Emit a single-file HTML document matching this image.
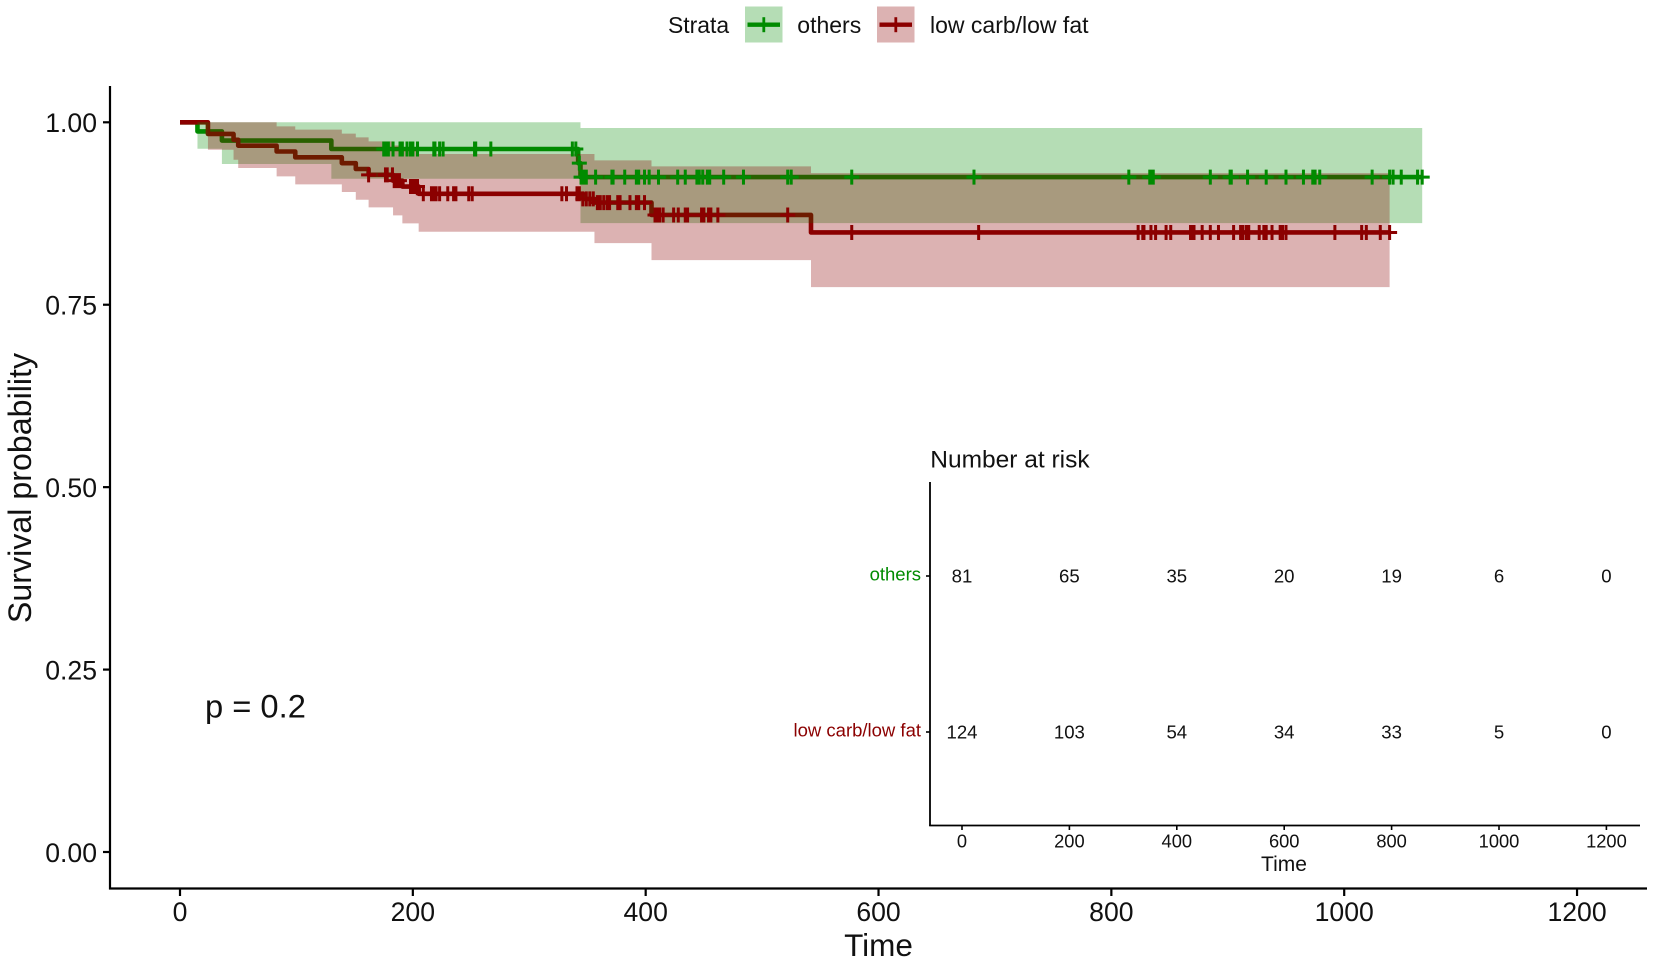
<!DOCTYPE html>
<html lang="en">
<head>
<meta charset="utf-8">
<title>Survival curve</title>
<style>
html,body{margin:0;padding:0;background:#fff;}
svg{display:block;}
text{font-family:"Liberation Sans",Arial,sans-serif;fill:#111;}
</style>
</head>
<body>
<svg id="chart" xmlns="http://www.w3.org/2000/svg" width="1654" height="964" viewBox="0 0 1654 964"></svg>
<script>
// ---- data ----
const xTicks = [0, 200, 400, 600, 800, 1000, 1200];
const yTicks = [0, 0.25, 0.5, 0.75, 1];
const yTickLabels = ["0.00", "0.25", "0.50", "0.75", "1.00"];
const riskTimes = [0, 200, 400, 600, 800, 1000, 1200];
const riskOthers = [81, 65, 35, 20, 19, 6, 0];
const riskLowCarb = [124, 103, 54, 34, 33, 5, 0];

const othersTime = [0, 15, 36, 130, 342, 344];
const othersSurv = [1, 0.9875, 0.975, 0.9634, 0.944, 0.9249];
const othersUpper = [1, 1, 1, 1, 1, 0.9922];
const othersLower = [1, 0.9638, 0.9428, 0.9227, 0.9227, 0.8619];
const othersEnd = 1067;
const othersCensor = [175,177,179,183,189,191,195,198,200,204,218,219,223,226,253,254,267,337,340,343,344.5,346.5,349,357,371,372,382,392,394,399,403,411,427.5,434,444,446,449,453,455,467,484,522,525,577,682,815,833,834,836,885,902,903,917,933,950,965,973,975,979,1024,1039,1042,1049,1063,1067];

const lowTime = [0, 24, 46, 50, 83, 99, 139, 151, 162, 183, 191, 205, 346, 356, 405, 542];
const lowSurv = [1, 0.984, 0.976, 0.968, 0.96, 0.952, 0.944, 0.936, 0.928, 0.92, 0.912, 0.902, 0.895, 0.89, 0.873, 0.849];
const lowUpper = [1, 1, 1, 1, 0.9944, 0.9899, 0.9844, 0.9794, 0.9739, 0.9684, 0.9624, 0.9565, 0.9565, 0.9478, 0.9396, 0.9304];
const lowLower = [1, 0.9624, 0.9487, 0.9373, 0.9259, 0.9149, 0.9044, 0.8939, 0.8834, 0.8724, 0.8614, 0.85, 0.85, 0.8345, 0.8112, 0.7742];
const lowEnd = 1039;
const lowCensor = [162,176.5,178,182.5,184,186,188.5,198,200,202,204,209,216,218,220,223,230,235,237,248,251,328,332,341,343,346,349,352,355,358.5,361,364,367,369,376,378,386.5,392,394,399,408,410,412,415,424,428,434,436,448,450,454,456,462,522,577,686,823,827,828,834,838,847,851,868,870,871,878,885,892,905,911,913,916,918,927,931,933,938,945,947,950,992,1015,1019,1031,1039];

// ---- axis functions ----
const xScale = t => 180 + t * 1.1642;
const yScale = s => 852 - s * 729.7;
const riskX = t => 962 + t * 0.537;

const GREEN = "#008b00";
const RED = "#8b0000";
const svg = document.getElementById("chart");
const NS = "http://www.w3.org/2000/svg";

function make(tag, attrs, parent) {
  const el = document.createElementNS(NS, tag);
  for (const k in attrs) el.setAttribute(k, attrs[k]);
  (parent || svg).appendChild(el);
  return el;
}
function label(str, x, y, size, anchor, fill, parent) {
  const el = make("text", {x: x, y: y, "font-size": size, "text-anchor": anchor || "start"}, parent);
  if (fill) el.style.fill = fill;
  el.textContent = str;
  return el;
}
function stepValue(times, vals, t) {
  let v = vals[0];
  for (let i = 0; i < times.length; i++) if (times[i] <= t) v = vals[i];
  return v;
}
function stepPath(times, vals, end) {
  let d = "M" + xScale(times[0]) + " " + yScale(vals[0]);
  for (let i = 1; i < times.length; i++) {
    d += "H" + xScale(times[i]) + "V" + yScale(vals[i]);
  }
  return d + "H" + xScale(end);
}
function ribbonPath(times, up, lo, end) {
  let d = "M" + xScale(times[0]) + " " + yScale(up[0]);
  for (let i = 1; i < times.length; i++) {
    d += "H" + xScale(times[i]) + "V" + yScale(up[i]);
  }
  d += "H" + xScale(end) + "V" + yScale(lo[lo.length - 1]);
  for (let i = times.length - 1; i >= 1; i--) {
    d += "H" + xScale(times[i]) + "V" + yScale(lo[i - 1]);
  }
  return d + "H" + xScale(times[0]) + "Z";
}

// ---- curves, beneath the ribbons ----
const othersLine = make("path", {d: stepPath(othersTime, othersSurv, othersEnd), fill: "none", stroke: GREEN, "stroke-width": 4.6, "stroke-linejoin": "round"});


const lowLine = make("path", {d: stepPath(lowTime, lowSurv, lowEnd), fill: "none", stroke: RED, "stroke-width": 4.6, "stroke-linejoin": "round"});



// ---- confidence ribbons ----
const othersBand = make("path", {d: ribbonPath(othersTime, othersUpper, othersLower, othersEnd), fill: GREEN, "fill-opacity": 0.29});


const lowBand = make("path", {d: ribbonPath(lowTime, lowUpper, lowLower, lowEnd), fill: RED, "fill-opacity": 0.3});



// ---- censor marks ----
function censorPath(list, times, vals) {
  let d = "";
  list.forEach(t => {
    const cx = xScale(t);
    const cy = yScale(stepValue(times, vals, t));
    d += "M" + (cx - 7.5) + " " + cy + "h15M" + cx + " " + (cy - 7.5) + "v15";
  });
  return d;
}
const othersMarks = make("path", {d: censorPath(othersCensor, othersTime, othersSurv), fill: "none", stroke: GREEN, "stroke-width": 3});


const lowMarks = make("path", {d: censorPath(lowCensor, lowTime, lowSurv), fill: "none", stroke: RED, "stroke-width": 3});



// ---- main axes ----
const xAxis = make("line", {x1: 109, x2: 1647, y1: 888.5, y2: 888.5, stroke: "#000", "stroke-width": 2.2});


const yAxis = make("line", {x1: 110, x2: 110, y1: 86, y2: 889.5, stroke: "#000", "stroke-width": 2.2});



xTicks.forEach(t => {
  const tick = make("line", {x1: xScale(t), x2: xScale(t), y1: 889, y2: 896, stroke: "#000", "stroke-width": 2.2});
  
  
  const txt = label(String(t), xScale(t), 921, 26.6, "middle");
  
  
});
yTicks.forEach((s, i) => {
  const tick = make("line", {x1: 103, x2: 110, y1: yScale(s), y2: yScale(s), stroke: "#000", "stroke-width": 2.2});
  
  
  const txt = label(yTickLabels[i], 97, yScale(s) + 9.8, 26.6, "end");
  
  
});

const xTitle = label("Time", 878.5, 956, 31.5, "middle");


const yTitle = label("Survival probability", 0, 0, 32.2, "middle");
yTitle.setAttribute("transform", "translate(31 488) rotate(-90)");


const pValue = label("p = 0.2", 205, 717.5, 32.7, "start");



// ---- legend ----
const legendTitle = label("Strata", 668, 33, 22.9, "start");



const othersKey = make("g", {});


make("rect", {x: 745, y: 6.5, width: 37.5, height: 36, fill: GREEN, "fill-opacity": 0.29}, othersKey);
make("path", {d: "M747.5 24.7H780", stroke: GREEN, "stroke-width": 4.4, fill: "none"}, othersKey);
make("path", {d: "M763.8 17.2V32.2", stroke: GREEN, "stroke-width": 2.8, fill: "none"}, othersKey);
label("others", 797.3, 33, 23, "start", null, othersKey);

const lowKey = make("g", {});


make("rect", {x: 877, y: 6.5, width: 37.5, height: 36, fill: RED, "fill-opacity": 0.3}, lowKey);
make("path", {d: "M879.5 24.7H912", stroke: RED, "stroke-width": 4.4, fill: "none"}, lowKey);
make("path", {d: "M895.8 17.2V32.2", stroke: RED, "stroke-width": 2.8, fill: "none"}, lowKey);
label("low carb/low fat", 930, 33, 23, "start", null, lowKey);

// ---- risk table inset ----
const riskTitle = label("Number at risk", 930.3, 467.5, 24.5, "start");


const riskYAxis = make("line", {x1: 930, x2: 930, y1: 482, y2: 826, stroke: "#000", "stroke-width": 1.8});


const riskXAxis = make("line", {x1: 929.2, x2: 1640, y1: 825.5, y2: 825.5, stroke: "#000", "stroke-width": 1.8});



function riskRow(name, values, y, color) {
  const tick = make("line", {x1: 926, x2: 930, y1: y, y2: y, stroke: "#000", "stroke-width": 1.6});
  
  
  const rowLabel = label(name, 921, y + 4.5, 18.5, "end", color);
  
  
  values.forEach((v, i) => {
    const cell = label(String(v), riskX(riskTimes[i]), y + 6.5, 18.6, "middle");
    
    
  });
}
riskRow("others", riskOthers, 576, GREEN);
riskRow("low carb/low fat", riskLowCarb, 732, RED);

riskTimes.forEach(t => {
  const tick = make("line", {x1: riskX(t), x2: riskX(t), y1: 826, y2: 830, stroke: "#000", "stroke-width": 1.6});
  
  
  const txt = label(String(t), riskX(t), 847.3, 18.3, "middle");
  
  
});
const riskXTitle = label("Time", 1284, 871, 21, "middle");


</script>
</body>
</html>
